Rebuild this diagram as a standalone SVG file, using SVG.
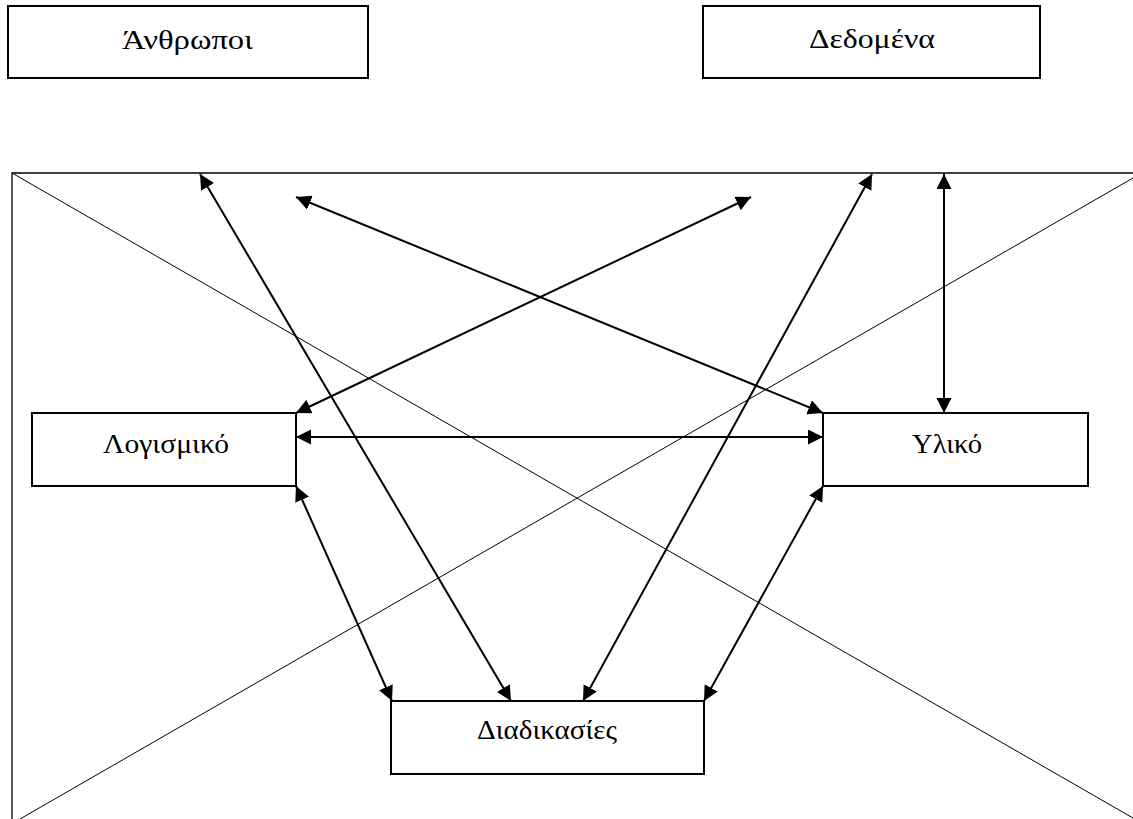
<svg xmlns="http://www.w3.org/2000/svg" width="1133" height="819" viewBox="0 0 1133 819">
  <style>
    .box { fill: #ffffff; stroke: #000000; stroke-width: 2; }
    .label { font-family: "Liberation Serif", "Times New Roman", serif; font-size: 27px; fill: #000000; }
    .frame { fill: none; stroke: #000000; stroke-width: 1.3; }
    .diag { fill: none; stroke: #000000; stroke-width: 1; }
    .link { fill: none; stroke: #000000; stroke-width: 2; marker-start: url(#head); marker-end: url(#head); }
  </style>
  <defs>
    <marker id="head" markerUnits="userSpaceOnUse" markerWidth="16" markerHeight="16" viewBox="0 0 16 16" refX="15" refY="7.5" orient="auto-start-reverse">
      <path d="M0,0 L15,7.5 L0,15 z" fill="#000000"/>
    </marker>
  </defs>
  <rect width="1133" height="819" fill="#ffffff"/>

  <!-- crossed frame behind the system parts -->
  <g id="frame">
    <path class="frame" d="M12,819 L12,173 L1133,173"/>
    <line class="diag" x1="12" y1="173" x2="1133" y2="818"/>
    <line class="diag" x1="20" y1="819" x2="1133" y2="178"/>
  </g>

  <!-- double-headed relations -->
  <g id="connectors">
    <line class="link" x1="296" y1="413" x2="751" y2="197"/>
    <line class="link" x1="823" y1="413" x2="296" y2="197"/>
    <line class="link" x1="296" y1="437" x2="823" y2="437"/>
    <line class="link" x1="944" y1="413" x2="944" y2="174"/>
    <line class="link" x1="296" y1="486" x2="392" y2="701"/>
    <line class="link" x1="823" y1="486" x2="704" y2="701"/>
    <line class="link" x1="200" y1="174" x2="511" y2="701"/>
    <line class="link" x1="872" y1="174" x2="583" y2="701"/>
  </g>

  <g id="people">
    <rect class="box" x="8" y="6" width="360" height="72"/>
    <text class="label" x="122" y="49" textLength="131" lengthAdjust="spacingAndGlyphs">Άνθρωποι</text>
  </g>
  <g id="data">
    <rect class="box" x="703" y="6" width="337" height="72"/>
    <text class="label" x="809" y="48" textLength="126" lengthAdjust="spacingAndGlyphs">Δεδομένα</text>
  </g>
  <g id="software">
    <rect class="box" x="32" y="413" width="264" height="73"/>
    <text class="label" x="103" y="453" textLength="126" lengthAdjust="spacingAndGlyphs">Λογισμικό</text>
  </g>
  <g id="hardware">
    <rect class="box" x="823" y="413" width="265" height="73"/>
    <text class="label" x="912" y="453" textLength="70" lengthAdjust="spacingAndGlyphs">Υλικό</text>
  </g>
  <g id="procedures">
    <rect class="box" x="391" y="701" width="313" height="73"/>
    <text class="label" x="477" y="739" textLength="140" lengthAdjust="spacingAndGlyphs">Διαδικασίες</text>
  </g>
</svg>
